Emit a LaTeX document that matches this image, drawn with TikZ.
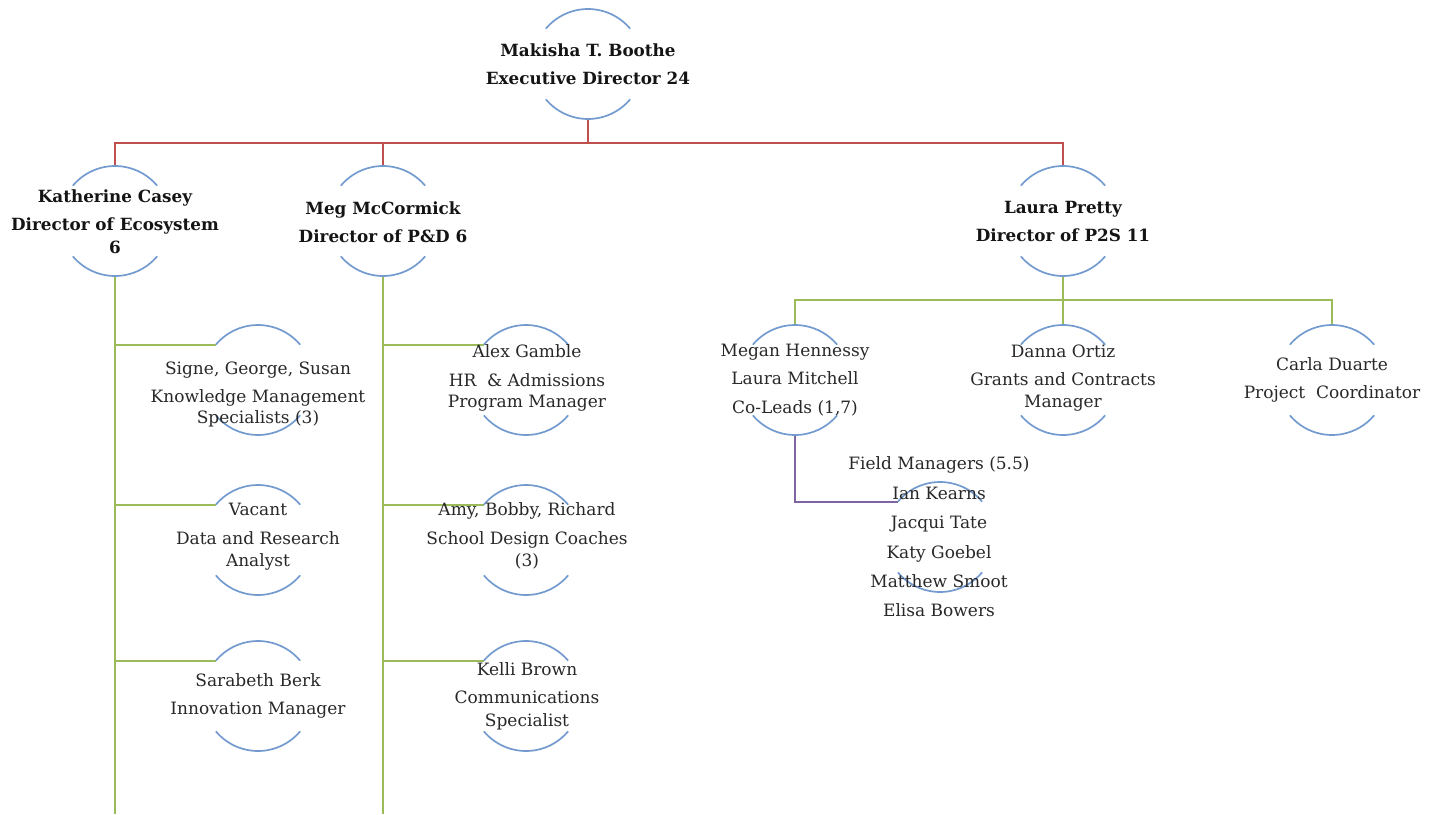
\documentclass[tikz,border=0pt]{standalone}
\usepackage{fontspec}
\setmainfont{DejaVu Serif}
\usetikzlibrary{calc}
\definecolor{arcblue}{RGB}{115,155,208}
\definecolor{lred}{RGB}{192,80,77}
\definecolor{lgreen}{RGB}{155,187,89}
\definecolor{lpurple}{RGB}{128,100,162}
\definecolor{ink}{RGB}{20,20,20}
\definecolor{ink2}{RGB}{40,40,40}
\begin{document}
\begin{tikzpicture}[x=1pt,y=1pt,
  ring/.style={circle,minimum size=110pt,inner sep=0pt,outer sep=0pt},
  arcline/.style={draw=arcblue,line width=1.7pt},
  bt/.style={align=center,font=\fontsize{16.8}{28}\selectfont\bfseries,text=ink,inner sep=0pt},
  rt/.style={align=center,font=\fontsize{17}{28.5}\selectfont,text=ink2,inner sep=0pt},
  redl/.style={draw=lred,line width=1.9pt},
  grnl/.style={draw=lgreen,line width=2pt},
  purl/.style={draw=lpurple,line width=1.9pt}]
\useasboundingbox (0,0) rectangle (1431,-814);
\fill[white] (0,0) rectangle (1431,-814);
% rings
\node[ring] (mak) at (588,-64) {};
\node[ring] (kat) at (115,-221) {};
\node[ring] (meg) at (383,-221) {};
\node[ring] (lau) at (1063,-221) {};
\node[ring] (sig) at (258,-380) {};
\node[ring] (vac) at (258,-540) {};
\node[ring] (sar) at (258,-696) {};
\node[ring] (alx) at (526,-380) {};
\node[ring] (amy) at (526,-540) {};
\node[ring] (kel) at (526,-696) {};
\node[ring] (meh) at (795,-380) {};
\node[ring] (dan) at (1063,-380) {};
\node[ring] (car) at (1332,-380) {};
\node[ring] (fld) at (940,-537) {};
\coordinate (bot) at (0,-814);
% red connectors
\draw[redl] (mak.south) -- ++(0,-24) coordinate (rj);
\draw[redl] (kat.north) |- (rj) -| (lau.north);
\draw[redl] (rj) -| (meg.north);
% green connectors, left
\draw[grnl] (kat.south) -- (kat.south |- bot);
\draw[grnl] (meg.south) -- (meg.south |- bot);
\foreach \n in {sig,vac,sar}{\draw[grnl] (\n.140) -- (\n.140 -| kat.south);}
\foreach \n in {alx,amy,kel}{\draw[grnl] (\n.140) -- (\n.140 -| meg.south);}
% green connectors, right
\coordinate (lj) at ($(lau.south)+(0,-24)$);
\draw[grnl] (lau.south) -- (dan.north);
\draw[grnl] (meh.north) |- (lj) -| (car.north);
% purple
\draw[purl] (meh.south) |- (fld.140);
% arcs
\foreach \n in {mak,kat,meg,lau,sig,vac,sar,alx,amy,kel,meh,dan,car,fld}{
  \draw[arcline] (\n.140) arc[start angle=140,end angle=40,radius=55pt];
  \draw[arcline] (\n.220) arc[start angle=220,end angle=320,radius=55pt];
}
% texts
\node[bt] (makt) at (588,-64) {Makisha T. Boothe\\Executive Director 24};
\node[bt] (katt) at (115,-222) {Katherine Casey\\Director of Ecosystem\\[-5pt]6};
\node[bt] (megt) at (383,-222) {Meg McCormick\\Director of P\&D 6};
\node[bt] (laut) at (1063,-221) {Laura Pretty\\Director of P2S 11};
\node[rt] (sigt) at (258,-394) {Signe, George, Susan\\Knowledge Management\\[-8pt]Specialists (3)};
\node[rt] (vact) at (258,-537) {Vacant\\Data and Research\\[-6pt]Analyst};
\node[rt] (sart) at (258,-696) {Sarabeth Berk\\Innovation Manager};
\node[rt] (alxt) at (527,-378) {Alex Gamble\\HR \ \& Admissions\\[-7pt]Program Manager};
\node[rt] (amyt) at (527,-536) {Amy, Bobby, Richard\\School Design Coaches\\[-6pt](3)};
\node[rt] (kelt) at (527,-696) {Kelli Brown\\Communications\\[-6pt]Specialist};
\node[rt] (meht) at (795,-380) {Megan Hennessy\\Laura Mitchell\\Co-Leads (1,7)};
\node[rt] (dant) at (1063,-378) {Danna Ortiz\\Grants and Contracts\\[-7pt]Manager};
\node[rt] (cart) at (1332,-380) {Carla Duarte\\Project \ Coordinator};
\node[rt,font=\fontsize{17}{29.4}\selectfont] (fldt) at (939,-537) {Field Managers (5.5)\\Ian Kearns\\Jacqui Tate\\Katy Goebel\\Matthew Smoot\\Elisa Bowers};
\end{tikzpicture}
\end{document}
